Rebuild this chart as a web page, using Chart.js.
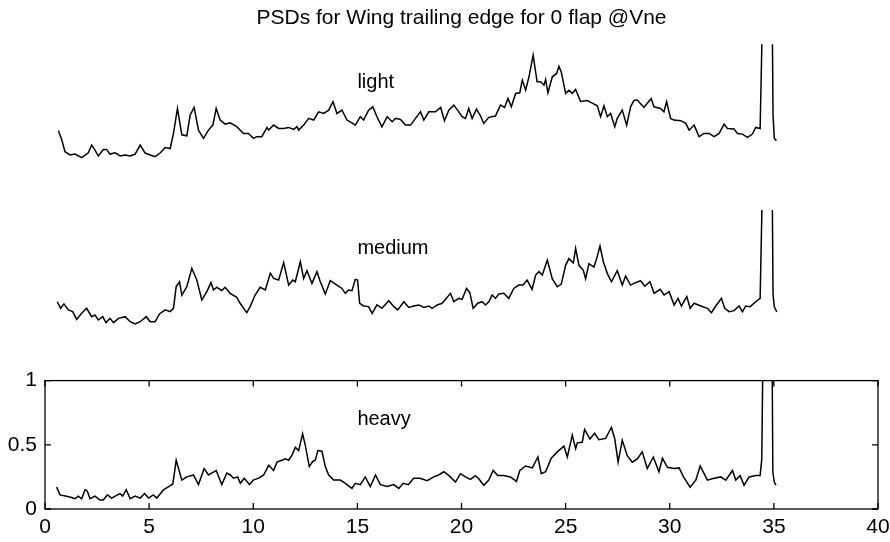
<!DOCTYPE html>
<html>
<head>
<meta charset="utf-8">
<title>PSDs for Wing trailing edge for 0 flap @Vne</title>
<script src="https://cdn.jsdelivr.net/npm/chart.js@4.4.1/dist/chart.umd.min.js"></script>
<style>
	body { margin: 0; background: #fff; }
	#wrap { position: relative; width: 890px; height: 542px; }
	#wrap canvas { position: absolute; left: 0; }
</style>
</head>
<body>
<div id="wrap">
	<canvas id="light-chart" width="890" height="180" style="top:0px"></canvas>
	<canvas id="medium-chart" width="890" height="160" style="top:190px"></canvas>
	<canvas id="heavy-chart" width="890" height="182" style="top:360px"></canvas>
</div>
<script>
(function() {
	"use strict";

	var TITLE = "PSDs for Wing trailing edge for 0 flap @Vne";
	var FONT = "'Liberation Sans', Arial, Helvetica, sans-serif";

	var xTicks = [0, 5, 10, 15, 20, 25, 30, 35, 40];
	var yTicks = [0, 0.5, 1];

	// light turbulence
	var lightFreq = [
		0.64, 0.80, 0.96, 1.20, 1.44, 1.76, 2.08, 2.24, 2.40, 2.56,
		2.80, 2.96, 3.12, 3.37, 3.61, 3.85, 4.09, 4.33, 4.57, 4.81,
		5.05, 5.29, 5.53, 5.77, 6.01, 6.17, 6.36, 6.57, 6.81, 6.97,
		7.16, 7.37, 7.61, 7.85, 8.06, 8.22, 8.41, 8.65, 8.89, 9.21,
		9.53, 9.77, 10.01, 10.17, 10.41, 10.66, 10.74, 10.98, 11.22, 11.46,
		11.70, 11.94, 12.10, 12.18, 12.42, 12.66, 12.90, 13.14, 13.38, 13.62,
		13.83, 14.02, 14.26, 14.50, 14.74, 14.90, 15.14, 15.30, 15.54, 15.74,
		15.94, 16.18, 16.43, 16.67, 16.83, 17.07, 17.31, 17.55, 17.79, 18.03,
		18.19, 18.43, 18.75, 19.00, 19.18, 19.39, 19.63, 19.87, 20.03, 20.19,
		20.35, 20.51, 20.72, 20.91, 21.07, 21.31, 21.63, 21.87, 22.07, 22.23,
		22.39, 22.60, 22.80, 22.92, 23.08, 23.24, 23.44, 23.63, 23.80, 23.96,
		24.04, 24.15, 24.36, 24.57, 24.68, 24.79, 25.00, 25.16, 25.32, 25.48,
		25.72, 26.04, 26.28, 26.52, 26.68, 26.84, 27.00, 27.16, 27.36, 27.48,
		27.72, 27.93, 28.12, 28.28, 28.44, 28.76, 28.92, 29.11, 29.24, 29.56,
		29.72, 29.85, 30.04, 30.20, 30.53, 30.77, 30.93, 31.01, 31.17, 31.41,
		31.65, 31.89, 32.13, 32.37, 32.61, 32.77, 33.09, 33.25, 33.49, 33.73,
		33.97, 34.13, 34.34, 34.50, 34.68, 34.90, 34.96, 35.02, 35.12
	];
	var lightPsd = [
		0.330, 0.260, 0.165, 0.140, 0.147, 0.120, 0.157, 0.217, 0.178, 0.132,
		0.183, 0.183, 0.147, 0.157, 0.132, 0.140, 0.132, 0.147, 0.217, 0.155,
		0.140, 0.127, 0.155, 0.198, 0.190, 0.307, 0.501, 0.297, 0.289, 0.450,
		0.509, 0.333, 0.269, 0.333, 0.372, 0.501, 0.411, 0.380, 0.390, 0.360,
		0.307, 0.307, 0.269, 0.282, 0.282, 0.354, 0.333, 0.372, 0.346, 0.346,
		0.354, 0.339, 0.359, 0.333, 0.372, 0.424, 0.411, 0.475, 0.462, 0.488,
		0.553, 0.462, 0.488, 0.411, 0.390, 0.372, 0.437, 0.411, 0.488, 0.514,
		0.437, 0.359, 0.437, 0.398, 0.424, 0.416, 0.372, 0.372, 0.424, 0.475,
		0.411, 0.475, 0.475, 0.509, 0.406, 0.488, 0.527, 0.475, 0.437, 0.424,
		0.501, 0.424, 0.496, 0.444, 0.385, 0.432, 0.442, 0.527, 0.509, 0.579,
		0.514, 0.618, 0.623, 0.721, 0.643, 0.747, 0.915, 0.708, 0.708, 0.682,
		0.726, 0.623, 0.747, 0.773, 0.829, 0.785, 0.618, 0.643, 0.618, 0.649,
		0.555, 0.563, 0.543, 0.522, 0.437, 0.522, 0.437, 0.462, 0.359, 0.424,
		0.488, 0.372, 0.514, 0.563, 0.566, 0.509, 0.541, 0.579, 0.514, 0.501,
		0.475, 0.555, 0.424, 0.411, 0.406, 0.385, 0.333, 0.346, 0.372, 0.282,
		0.307, 0.307, 0.282, 0.307, 0.380, 0.346, 0.341, 0.307, 0.302, 0.277,
		0.302, 0.354, 0.346, 1.6, 4.0, 1.6, 0.450, 0.270, 0.250
	];

	// medium turbulence
	var mediumFreq = [
		0.59, 0.75, 0.91, 1.12, 1.33, 1.52, 1.76, 2.00, 2.24, 2.40,
		2.56, 2.77, 2.93, 3.12, 3.29, 3.53, 3.85, 4.09, 4.33, 4.57,
		4.86, 5.05, 5.29, 5.50, 5.77, 6.01, 6.17, 6.30, 6.46, 6.57,
		6.81, 7.05, 7.29, 7.53, 7.77, 7.97, 8.09, 8.25, 8.49, 8.65,
		8.89, 9.21, 9.37, 9.69, 9.85, 10.09, 10.33, 10.58, 10.82, 10.98,
		11.22, 11.46, 11.70, 11.90, 12.02, 12.26, 12.42, 12.58, 12.82, 13.06,
		13.22, 13.46, 13.70, 14.02, 14.26, 14.42, 14.58, 14.74, 14.90, 15.01,
		15.11, 15.30, 15.54, 15.71, 15.94, 16.18, 16.51, 16.75, 16.94, 17.23,
		17.47, 17.71, 17.95, 18.19, 18.43, 18.59, 18.83, 19.07, 19.47, 19.63,
		19.87, 20.03, 20.24, 20.40, 20.56, 20.78, 20.99, 21.15, 21.31, 21.47,
		21.63, 21.79, 22.03, 22.27, 22.51, 22.75, 22.96, 23.15, 23.39, 23.56,
		23.72, 23.88, 24.12, 24.36, 24.60, 24.79, 25.00, 25.16, 25.37, 25.48,
		25.64, 25.85, 25.96, 26.12, 26.36, 26.49, 26.65, 26.81, 27.00, 27.20,
		27.48, 27.72, 27.88, 28.12, 28.28, 28.60, 28.80, 29.05, 29.25, 29.54,
		29.73, 29.97, 30.21, 30.40, 30.56, 30.82, 30.98, 31.17, 31.49, 31.81,
		32.00, 32.21, 32.48, 32.64, 32.85, 33.09, 33.33, 33.49, 33.65, 33.86,
		34.13, 34.34, 34.50, 34.68, 34.90, 34.96, 35.02, 35.14
	];
	var mediumPsd = [
		0.289, 0.238, 0.272, 0.226, 0.212, 0.152, 0.199, 0.238, 0.173, 0.186,
		0.147, 0.173, 0.127, 0.160, 0.127, 0.160, 0.173, 0.134, 0.116, 0.134,
		0.173, 0.134, 0.134, 0.194, 0.226, 0.212, 0.238, 0.406, 0.444, 0.341,
		0.406, 0.548, 0.457, 0.302, 0.367, 0.437, 0.380, 0.401, 0.375, 0.401,
		0.354, 0.323, 0.277, 0.204, 0.251, 0.341, 0.401, 0.380, 0.510, 0.470,
		0.457, 0.592, 0.418, 0.457, 0.444, 0.599, 0.470, 0.530, 0.431, 0.522,
		0.444, 0.349, 0.452, 0.418, 0.392, 0.354, 0.380, 0.375, 0.462, 0.457,
		0.277, 0.256, 0.251, 0.199, 0.264, 0.238, 0.297, 0.251, 0.226, 0.289,
		0.245, 0.256, 0.264, 0.245, 0.256, 0.238, 0.264, 0.277, 0.354, 0.289,
		0.315, 0.307, 0.392, 0.359, 0.238, 0.277, 0.289, 0.264, 0.289, 0.341,
		0.315, 0.349, 0.354, 0.315, 0.392, 0.418, 0.418, 0.457, 0.385, 0.496,
		0.522, 0.496, 0.612, 0.465, 0.405, 0.426, 0.571, 0.623, 0.589, 0.703,
		0.571, 0.532, 0.467, 0.584, 0.558, 0.623, 0.721, 0.599, 0.509, 0.444,
		0.530, 0.418, 0.488, 0.418, 0.431, 0.452, 0.410, 0.444, 0.354, 0.385,
		0.341, 0.367, 0.264, 0.315, 0.256, 0.328, 0.238, 0.277, 0.256, 0.238,
		0.204, 0.256, 0.315, 0.238, 0.212, 0.220, 0.256, 0.212, 0.256, 0.251,
		0.289, 0.315, 1.6, 4.0, 1.6, 0.350, 0.250, 0.210
	];

	// heavy turbulence
	var heavyFreq = [
		0.56, 0.72, 1.04, 1.28, 1.44, 1.60, 1.76, 1.92, 2.03, 2.16,
		2.40, 2.64, 2.80, 3.00, 3.20, 3.37, 3.60, 3.73, 3.90, 4.09,
		4.33, 4.57, 4.78, 4.97, 5.20, 5.37, 5.69, 6.00, 6.14, 6.30,
		6.57, 6.81, 7.13, 7.37, 7.64, 7.85, 8.00, 8.22, 8.49, 8.73,
		8.90, 9.05, 9.25, 9.38, 9.57, 9.82, 10.00, 10.26, 10.50, 10.74,
		10.98, 11.14, 11.38, 11.54, 11.70, 11.86, 12.02, 12.18, 12.37, 12.50,
		12.69, 12.85, 12.98, 13.10, 13.30, 13.46, 13.62, 13.86, 14.18, 14.42,
		14.74, 14.90, 15.14, 15.38, 15.62, 15.87, 16.10, 16.43, 16.75, 16.99,
		17.20, 17.45, 17.70, 18.00, 18.35, 18.67, 18.90, 19.15, 19.40, 19.71,
		19.95, 20.19, 20.43, 20.67, 20.83, 21.07, 21.31, 21.52, 21.74, 22.03,
		22.35, 22.64, 22.80, 23.08, 23.40, 23.67, 23.83, 24.04, 24.31, 24.60,
		24.92, 25.08, 25.32, 25.48, 25.56, 25.80, 25.91, 26.17, 26.39, 26.60,
		26.92, 27.20, 27.36, 27.52, 27.72, 27.96, 28.20, 28.44, 28.68, 28.92,
		29.21, 29.48, 29.65, 29.89, 30.21, 30.45, 30.66, 30.98, 31.25, 31.46,
		31.81, 32.13, 32.45, 32.69, 33.01, 33.17, 33.38, 33.57, 33.81, 34.13,
		34.34, 34.42, 34.50, 34.68, 34.90, 34.95, 35.02, 35.10
	];
	var heavyPsd = [
		0.170, 0.110, 0.100, 0.090, 0.080, 0.100, 0.080, 0.150, 0.140, 0.080,
		0.100, 0.070, 0.070, 0.110, 0.085, 0.100, 0.120, 0.100, 0.150, 0.080,
		0.100, 0.085, 0.120, 0.085, 0.110, 0.085, 0.150, 0.180, 0.195, 0.380,
		0.225, 0.250, 0.265, 0.190, 0.315, 0.265, 0.280, 0.300, 0.190, 0.280,
		0.265, 0.240, 0.250, 0.200, 0.240, 0.190, 0.225, 0.240, 0.265, 0.340,
		0.300, 0.365, 0.380, 0.390, 0.380, 0.420, 0.480, 0.455, 0.585, 0.495,
		0.330, 0.370, 0.380, 0.455, 0.450, 0.330, 0.265, 0.225, 0.225, 0.200,
		0.160, 0.200, 0.190, 0.250, 0.175, 0.265, 0.190, 0.175, 0.190, 0.160,
		0.200, 0.190, 0.240, 0.240, 0.220, 0.250, 0.265, 0.290, 0.260, 0.210,
		0.275, 0.250, 0.230, 0.260, 0.235, 0.185, 0.225, 0.300, 0.260, 0.260,
		0.250, 0.215, 0.300, 0.335, 0.320, 0.405, 0.275, 0.290, 0.395, 0.445,
		0.490, 0.405, 0.575, 0.470, 0.515, 0.520, 0.620, 0.545, 0.590, 0.540,
		0.550, 0.635, 0.545, 0.365, 0.535, 0.415, 0.365, 0.390, 0.445, 0.315,
		0.405, 0.290, 0.395, 0.325, 0.315, 0.320, 0.250, 0.170, 0.225, 0.335,
		0.225, 0.240, 0.250, 0.225, 0.300, 0.225, 0.260, 0.185, 0.250, 0.260,
		0.260, 0.390, 1.6, 4.0, 1.6, 0.290, 0.210, 0.185
	];

	function points(xs, ys) {
		var out = [];
		for (var i = 0; i < xs.length; i++) {
			out.push({ x: xs[i], y: ys[i] });
		}
		return out;
	}

	// "light" / "medium" / "heavy" tag written inside each panel at (15, 0.7)
	var panelLabel = {
		id: "panelLabel",
		afterDatasetsDraw: function(chart, args, opts) {
			var ctx = chart.ctx;
			ctx.save();
			ctx.font = "20px " + FONT;
			ctx.fillStyle = "#000";
			ctx.textAlign = "left";
			ctx.textBaseline = "middle";
			ctx.fillText(opts.text, chart.scales.x.getPixelForValue(15), chart.scales.y.getPixelForValue(0.7));
			ctx.restore();
		}
	};

	// boxed axes with inward tick marks on all four sides
	var boxAxes = {
		id: "boxAxes",
		afterDraw: function(chart, args, opts) {
			if (!opts.enabled) return;
			var ctx = chart.ctx, a = chart.chartArea;
			var sx = chart.scales.x, sy = chart.scales.y;
			var len = 6, i, p;
			ctx.save();
			ctx.strokeStyle = "#000";
			ctx.lineWidth = 1.3;
			ctx.strokeRect(a.left, a.top, a.right - a.left, a.bottom - a.top);
			ctx.beginPath();
			for (i = 0; i < xTicks.length; i++) {
				p = sx.getPixelForValue(xTicks[i]);
				ctx.moveTo(p, a.bottom); ctx.lineTo(p, a.bottom - len);
				ctx.moveTo(p, a.top); ctx.lineTo(p, a.top + len);
			}
			for (i = 0; i < yTicks.length; i++) {
				p = sy.getPixelForValue(yTicks[i]);
				ctx.moveTo(a.left, p); ctx.lineTo(a.left + len, p);
				ctx.moveTo(a.right, p); ctx.lineTo(a.right - len, p);
			}
			ctx.stroke();
			ctx.restore();
		}
	};

	function makeChart(id, xs, ys, label, opts) {
		var showAxes = !!opts.axes;
		var tickFont = { family: FONT, size: 21 };
		var xScale = {
			type: "linear",
			min: 0,
			max: 40,
			display: showAxes,
			grid: { display: false, drawTicks: false },
			border: { display: false },
			ticks: { stepSize: 5, color: "#000", font: tickFont, padding: 6, maxRotation: 0 }
		};
		var yScale = {
			type: "linear",
			min: 0,
			max: 1,
			display: showAxes,
			grid: { display: false, drawTicks: false },
			border: { display: false },
			ticks: {
				stepSize: 0.5,
				color: "#000",
				font: tickFont,
				padding: 8,
				callback: function(v) { return String(v); }
			}
		};
		if (showAxes) {
			// fixed axis sizes; end labels may hang past the plot box
			xScale.afterFit = function(s) {
				s.height = 33;
				s.paddingLeft = 0;
				s.paddingRight = 0;
			};
			yScale.afterFit = function(s) { s.width = 45; };
		}
		return new Chart(document.getElementById(id), {
			type: "line",
			data: {
				datasets: [{
					data: points(xs, ys),
					borderColor: "#000",
					borderWidth: 1.5,
					pointRadius: 0,
					tension: 0,
					fill: false
				}]
			},
			options: {
				responsive: false,
				animation: false,
				events: [],
				layout: { padding: opts.padding },
				scales: { x: xScale, y: yScale },
				plugins: {
					legend: { display: false },
					tooltip: { enabled: false },
					title: {
						display: !!opts.title,
						text: opts.title || "",
						color: "#000",
						font: { family: FONT, size: 21, weight: "normal" },
						padding: { top: 6, bottom: 13 }
					},
					panelLabel: { text: label },
					boxAxes: { enabled: showAxes }
				}
			},
			plugins: [panelLabel, boxAxes]
		});
	}

	document.addEventListener("DOMContentLoaded", function() {
		makeChart("light-chart", lightFreq, lightPsd, "light", {
			title: TITLE,
			padding: { left: 45, right: 12, top: 0, bottom: 7 }
		});
		makeChart("medium-chart", mediumFreq, mediumPsd, "medium", {
			padding: { left: 45, right: 12, top: 20, bottom: 11 }
		});
		makeChart("heavy-chart", heavyFreq, heavyPsd, "heavy", {
			axes: true,
			padding: { left: 0, right: 12, top: 20, bottom: 0 }
		});
	});
}) ();
</script>
</body>
</html>
